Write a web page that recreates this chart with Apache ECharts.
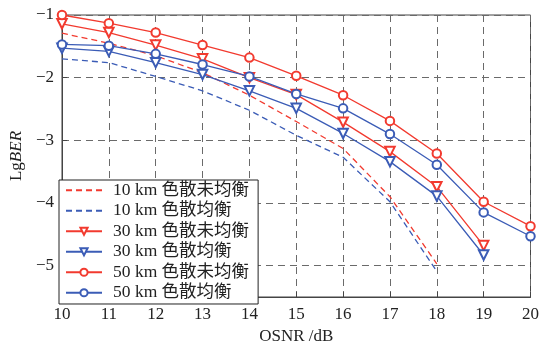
<!DOCTYPE html>
<html>
<head>
<meta charset="utf-8">
<script src="https://cdn.jsdelivr.net/npm/echarts@6/dist/echarts.min.js"></script>
<style>html,body{margin:0;padding:0;background:#fff;}#c{width:542px;height:350px;}</style>
</head>
<body>
<div id="c"></div>
<script>
const osnr = [10, 11, 12, 13, 14, 15, 16, 17, 18, 19, 20];
const yTicks = [-1, -2, -3, -4, -5];
const names = ['10 km 色散未均衡', '10 km 色散均衡', '30 km 色散未均衡', '30 km 色散均衡', '50 km 色散未均衡', '50 km 色散均衡'];
const km10Uneq = [-1.29, -1.45, -1.65, -1.92, -2.28, -2.70, -3.13, -3.90, -4.97];
const km10Eq   = [-1.70, -1.76, -1.98, -2.21, -2.52, -2.92, -3.27, -3.98, -5.09];
const km30Uneq = [-1.14, -1.28, -1.48, -1.70, -2.00, -2.27, -2.71, -3.18, -3.74, -4.68];
const km30Eq   = [-1.53, -1.58, -1.76, -1.95, -2.21, -2.49, -2.89, -3.34, -3.89, -4.83];
const km50Uneq = [-1.00, -1.13, -1.28, -1.48, -1.68, -1.97, -2.28, -2.69, -3.21, -3.98, -4.37];
const km50Eq   = [-1.47, -1.49, -1.62, -1.79, -1.98, -2.26, -2.49, -2.90, -3.39, -4.15, -4.53];

const RED = '#f23a2f', BLUE = '#3b5cb6';
const SERIF = "'Liberation Serif', 'Noto Sans CJK SC', serif";
const FS = 17;
const pairs = arr => arr.map((v, i) => [osnr[i], v]);

function mk(name, data, color, dashed, symbol, rotate) {
  return {
    name, type: 'line', data: pairs(data),
    symbol: symbol || 'none', symbolSize: symbol === 'emptyCircle' ? 8.5 : 9.5,
    symbolRotate: rotate || 0,
    showSymbol: !!symbol,
    lineStyle: { color, width: 1.3, type: dashed ? [6, 4] : 'solid' },
    itemStyle: { color, borderColor: color, borderWidth: 1.2 },
    animation: false, z: 3
  };
}

const legendData = names.map((n, i) => i < 2 ? { name: n, itemStyle: { opacity: 0 } } : { name: n });

const chart = echarts.init(document.getElementById('c'), null, { renderer: 'canvas' });
chart.setOption({
  backgroundColor: '#fff',
  animation: false,
  grid: { left: 59, right: 9, top: 15, bottom: 48, show: true, borderColor: '#444', borderWidth: 1, backgroundColor: 'transparent' },
  xAxis: {
    type: 'value', min: 10, max: 20, interval: 1,
    name: 'OSNR /dB', nameLocation: 'middle', nameGap: 31,
    nameTextStyle: { fontFamily: SERIF, fontSize: FS, color: '#222' },
    axisLine: { show: true, lineStyle: { color: '#444' } },
    axisTick: { show: true, inside: true, length: 5, lineStyle: { color: '#444' } },
    axisLabel: { fontFamily: SERIF, fontSize: FS, color: '#222', margin: 9 },
    splitLine: { show: true, lineStyle: { color: '#6a6a6a', type: [7, 5], width: 1 } }
  },
  yAxis: {
    type: 'value', min: -5.5, max: -1,
    name: '{a|Lg}{b|BER}', nameLocation: 'middle', nameGap: 33, nameRotate: 90,
    nameTextStyle: { rich: {
      a: { fontFamily: SERIF, fontSize: FS, color: '#222' },
      b: { fontFamily: SERIF, fontSize: FS, fontStyle: 'italic', color: '#222' } } },
    axisLine: { show: true, lineStyle: { color: '#444' } },
    axisTick: { show: true, inside: true, length: 5, customValues: yTicks, lineStyle: { color: '#444' } },
    axisLabel: { fontFamily: SERIF, fontSize: FS, color: '#222', margin: 8, customValues: yTicks,
      formatter: v => String(v).replace('-', '\u2212') },
    splitLine: { show: true, lineStyle: { color: '#6a6a6a', type: [7, 5], width: 1 } }
  },
  legend: {
    data: legendData, orient: 'vertical', left: 59, top: 180,
    backgroundColor: '#fff', borderColor: '#222', borderWidth: 1, borderRadius: 0,
    padding: [1.5, 9, 2.5, 6], itemWidth: 36, itemHeight: 9, itemGap: 3,
    textStyle: { fontFamily: SERIF, fontSize: 17.5, lineHeight: 17, color: '#222', padding: [0, 0, 0, 6] }
  },
  series: [
    mk(names[0], km10Uneq, RED, true),
    mk(names[1], km10Eq, BLUE, true),
    mk(names[2], km30Uneq, RED, false, 'emptyTriangle', 180),
    mk(names[3], km30Eq, BLUE, false, 'emptyTriangle', 180),
    mk(names[4], km50Uneq, RED, false, 'emptyCircle'),
    mk(names[5], km50Eq, BLUE, false, 'emptyCircle')
  ]
});
</script>
</body>
</html>
